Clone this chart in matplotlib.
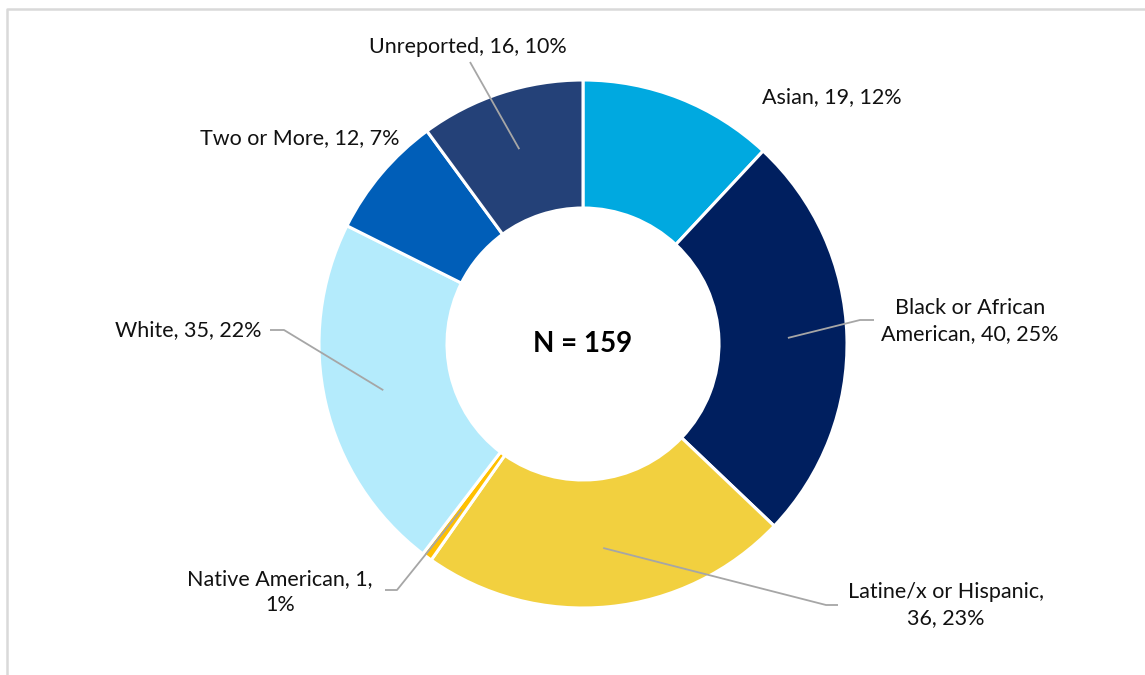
import matplotlib
matplotlib.use("Agg")
import matplotlib.pyplot as plt
import numpy as np

categories = ["Asian", "Black or African American", "Latine/x or Hispanic",
              "Native American", "White", "Two or More", "Unreported"]
counts = [19, 40, 36, 1, 35, 12, 16]
pct_labels = ["12%", "25%", "23%", "1%", "22%", "7%", "10%"]
label_text = ["Asian, 19, 12%", "Black or African\nAmerican, 40, 25%",
              "Latine/x or Hispanic,\n36, 23%", "Native American, 1,\n1%",
              "White, 35, 22%", "Two or More, 12, 7%", "Unreported, 16, 10%"]
colors = ["#00A9E0", "#001F5F", "#F2D03F", "#FFC000", "#B4EBFC", "#005EB8", "#244178"]
total = sum(counts)

W, H = 1145, 675
fig = plt.figure(figsize=(W / 100, H / 100), dpi=100)
ax = fig.add_axes([0, 0, 1, 1])
plt.rcParams['font.family'] = ['Lato', 'DejaVu Sans']

cx, cy = 583, H - 344
R = 264
ring = 128
wedges, _ = ax.pie(counts, colors=colors, startangle=90, counterclock=False,
                   center=(cx, cy), radius=R, frame=True,
                   wedgeprops=dict(width=ring, edgecolor="white", linewidth=2.2))

ax.text(cx, cy, f"N = {total}", ha="center", va="center", fontsize=20,
        fontweight="bold", color="black")

# label positions (pixel coords, y from top) and elbow points
label_pos = [(832, 97), (970, 321), (946, 605), (280, 592), (188, 330), (300, 138), (468, 47)]
elbow = [None, (860, 320), (826, 605), (397, 590), (284, 330), None, (470, 62)]
elbow_end = [None, (874, 320), (838, 605), (385, 590), (270, 330), None, None]

for i, w in enumerate(wedges):
    tx, ty = label_pos[i]
    ax.text(tx, H - ty, label_text[i], ha="center", va="center", fontsize=15.5,
            color="#111111", linespacing=1.35)
    if elbow[i] is not None:
        ang = np.deg2rad((w.theta1 + w.theta2) / 2)
        r0 = R - ring / 2 + 5
        sx, sy = cx + r0 * np.cos(ang), cy + r0 * np.sin(ang)
        ex, ey = elbow[i]
        xs = [sx, ex]
        ys = [sy, H - ey]
        if elbow_end[i] is not None:
            xs.append(elbow_end[i][0])
            ys.append(H - elbow_end[i][1])
        ax.plot(xs, ys, color="#A6A6A6", linewidth=1.3, solid_capstyle="butt")

# border of chart area
ax.plot([7, 7, W + 5], [-5, H - 9, H - 9], color="#D9D9D9", linewidth=1.8)

ax.set_xlim(0, W)
ax.set_ylim(0, H)
ax.set_aspect("equal")
ax.axis("off")
fig.savefig("out.png", dpi=100)
